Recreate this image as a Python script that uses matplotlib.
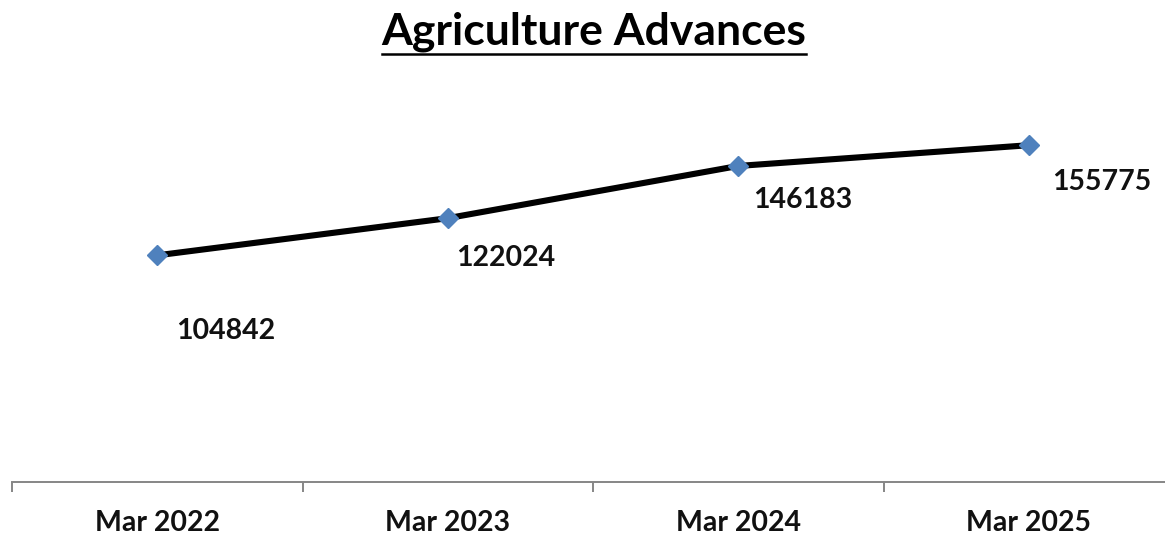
import matplotlib
matplotlib.use("Agg")
import matplotlib.pyplot as plt
from matplotlib.lines import Line2D

categories = ["Mar 2022", "Mar 2023", "Mar 2024", "Mar 2025"]
values = [104842, 122024, 146183, 155775]
label_offsets = [(68, -76), (58, -40), (64, -34), (73, -37)]  # px offsets for data labels

W, H, DPI = 1165, 538, 100
plt.rcParams['font.family'] = ['Lato', 'DejaVu Sans']
fig = plt.figure(figsize=(W / DPI, H / DPI), dpi=DPI)

ax_left, ax_right = 12, 1174
ax_bottom, ax_top = 482, 55
ax = fig.add_axes([ax_left / W, 1 - ax_bottom / H, (ax_right - ax_left) / W, (ax_bottom - ax_top) / H])

x = list(range(len(categories)))
ax.plot(x, values, color='black', lw=4.4, solid_capstyle='butt', zorder=2)
ax.plot(x, values, ls='none', marker='D', ms=10, mfc='#4F81BD', mec='#4F81BD', zorder=3)

for xi, v, (dx, dy) in zip(x, values, label_offsets):
    ax.annotate(str(v), (xi, v), xytext=(dx * 72 / DPI, dy * 72 / DPI), textcoords='offset points',
                ha='center', va='center', fontsize=20.5, fontweight='bold', color='#111111')

ax.set_xlim(-0.5, 3.5)
ax.set_ylim(0, 197500)
ax.set_yticks([])
for s in ['top', 'right', 'left']:
    ax.spines[s].set_visible(False)
ax.spines['bottom'].set_color('#868686')
ax.spines['bottom'].set_linewidth(1.4)

ax.set_xticks([-0.5, 0.5, 1.5, 2.5, 3.5])
ax.set_xticklabels([])
ax.tick_params(axis='x', which='major', length=7.2, width=1.4, color='#868686', direction='out')
ax.set_xticks(x, minor=True)
ax.set_xticklabels(categories, minor=True, fontsize=20.5, fontweight='bold', color='#111111')
ax.tick_params(axis='x', which='minor', length=0, pad=20)

title = fig.text(594 / W, 1 - 32 / H, "Agriculture Advances", ha='center', va='center',
                 fontsize=32, fontweight='bold', color='black')
fig.canvas.draw()
bb = title.get_window_extent()
uy = 1 - 54 / H
fig.add_artist(Line2D([bb.x0 / W, bb.x1 / W], [uy, uy], color='black', lw=1.8,
                      transform=fig.transFigure))

fig.savefig("out.png", dpi=DPI)
